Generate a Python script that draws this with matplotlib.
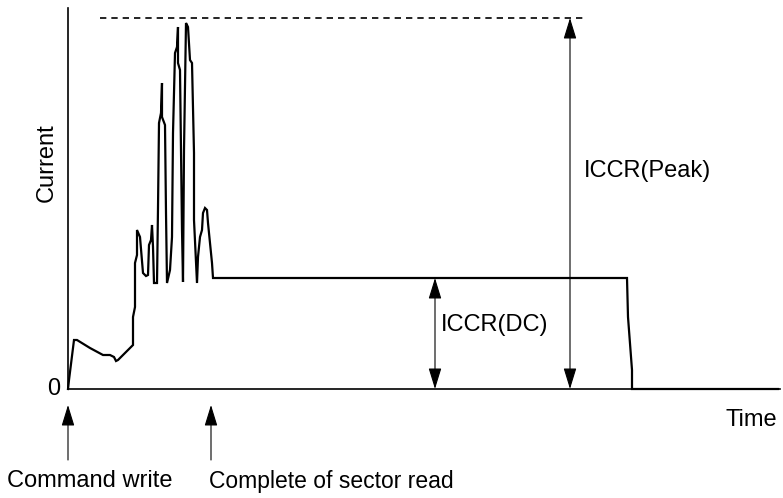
import matplotlib
matplotlib.use("Agg")
import matplotlib.pyplot as plt

plt.rcParams['font.family'] = ['Liberation Sans', 'DejaVu Sans']

# Current trace (time units, current units)
time = [0, 1, 6, 9, 22, 35, 42, 46, 48, 50, 65, 65, 67, 67, 69, 69, 72, 75, 78, 80,
        81, 83, 84, 85, 86, 89, 90, 91, 93, 94, 94, 97, 98, 99, 102, 104, 105, 107,
        109, 110, 110, 112, 114, 115, 116, 118, 120, 122, 124, 126, 126, 129, 130,
        132, 134, 135, 137, 139, 140, 144, 145, 559, 560, 564, 564, 710]
current = [0, 9, 49, 49, 41, 34, 34, 32, 28, 29, 44, 72, 82, 126, 134, 159, 152, 116,
           113, 114, 144, 149, 164, 142, 106, 106, 181, 266, 276, 306, 272, 264, 176,
           106, 119, 152, 256, 336, 342, 362, 326, 319, 159, 107, 239, 366, 362, 329,
           326, 236, 169, 106, 132, 152, 159, 176, 181, 179, 166, 126, 111, 111, 72,
           19, 0, 0]

peak_level = 371
dc_level = 111
peak_dash = [32, 517]
peak_arrow_t = 502
dc_arrow_t = 367
event_times = [0, 143]
event_labels = ["Command write", "Complete of sector read"]

W, H = 783, 498
fig = plt.figure(figsize=(W / 100, H / 100), dpi=100)
ax = fig.add_axes([68 / W, (H - 389) / H, (780 - 68) / W, (389 - 8) / H])
ax.set_xlim(0, 712)
ax.set_ylim(0, 381)
for s in ['top', 'right']:
    ax.spines[s].set_visible(False)
for s in ['left', 'bottom']:
    ax.spines[s].set_linewidth(1.2)
ax.set_xticks([])
ax.set_yticks([])

ax.plot(time, current, color='black', lw=1.6, solid_joinstyle='miter', clip_on=False)
ax.plot(peak_dash, [peak_level, peak_level], color='black', lw=1.2,
        dashes=(3.8, 3.0))

fs = 17
arrow_both = dict(arrowstyle='<|-|>,head_length=0.65,head_width=0.2', color='black',
                  lw=0.8, shrinkA=0, shrinkB=0, mutation_scale=20)
arrow_up = dict(arrowstyle='-|>,head_length=0.65,head_width=0.2', color='black',
                lw=0.8, shrinkA=0, shrinkB=0, mutation_scale=20)

ax.annotate('', xy=(peak_arrow_t, peak_level), xytext=(peak_arrow_t, 0),
            arrowprops=arrow_both, annotation_clip=False)
ax.annotate('', xy=(dc_arrow_t, dc_level), xytext=(dc_arrow_t, 0),
            arrowprops=arrow_both, annotation_clip=False)
ax.text(516, 218, 'ICCR(Peak)', fontsize=fs, ha='left', va='center')
ax.text(373, 64, 'ICCR(DC)', fontsize=fs, ha='left', va='center')

for t in event_times:
    ax.annotate('', xy=(t, -16), xytext=(t, -71), arrowprops=arrow_up,
                annotation_clip=False)
ax.text(-61, -92, event_labels[0], fontsize=fs, ha='left', va='center', clip_on=False)
ax.text(141, -92, event_labels[1], fontsize=16.5, ha='left', va='center', clip_on=False)

ax.text(-8, 0, '0', fontsize=fs, ha='right', va='center', clip_on=False)
ax.text(709, -31, 'Time', fontsize=fs, ha='right', va='center', clip_on=False)
ax.text(-21, 226, 'Current', fontsize=fs, ha='center', va='center', rotation=90,
        clip_on=False)

fig.savefig('out.png', dpi=100)
